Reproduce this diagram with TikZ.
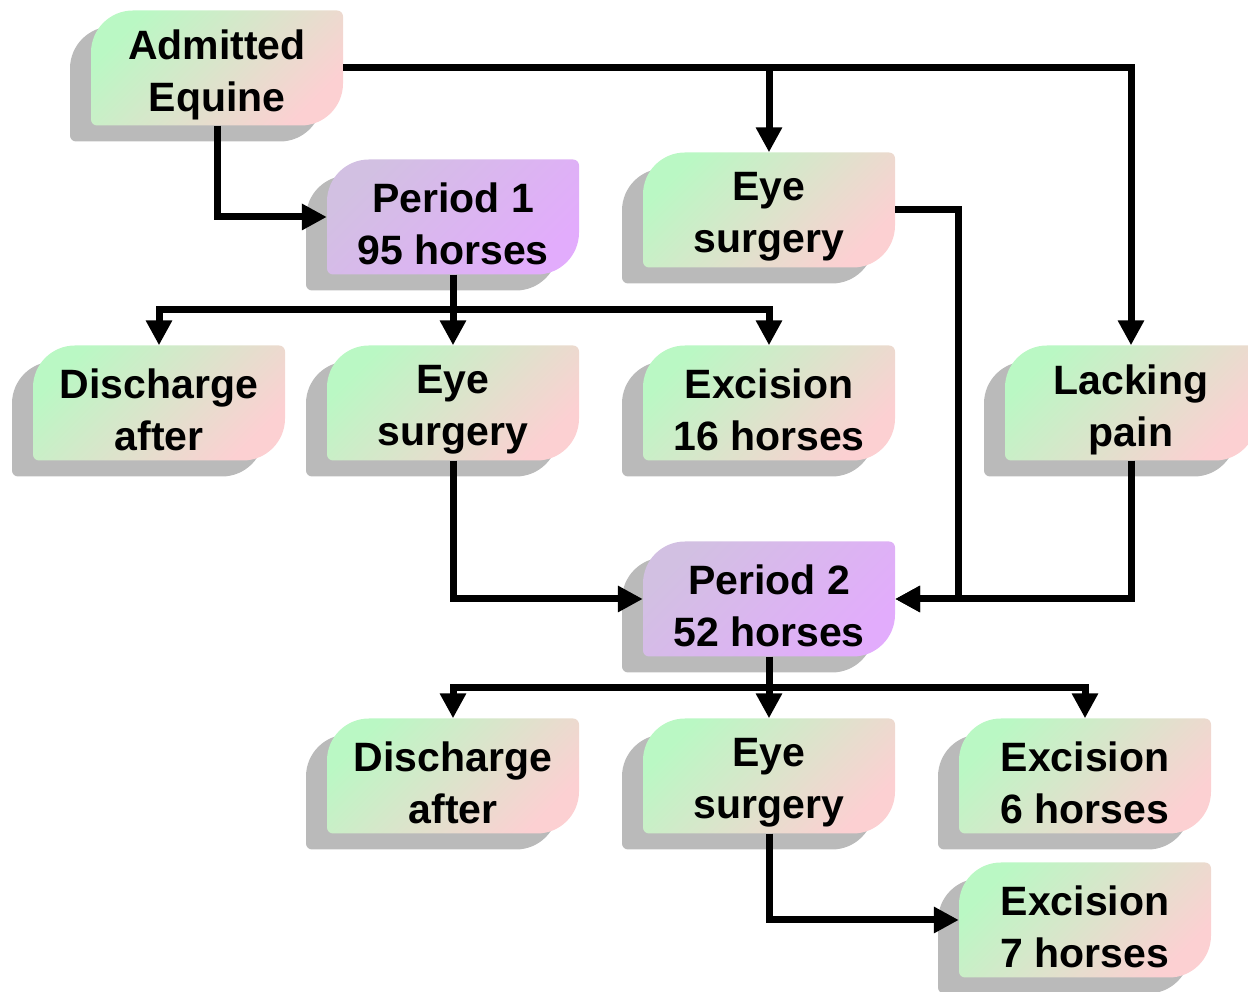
\documentclass[tikz,border=0pt]{standalone}
\usepackage{fontspec}
\setmainfont{Liberation Sans}
\usetikzlibrary{arrows.meta,calc}
\definecolor{gGreen}{RGB}{186,248,196}
\definecolor{gPink}{RGB}{252,208,210}
\definecolor{pTop}{RGB}{210,192,226}
\definecolor{pBot}{RGB}{226,172,252}
\definecolor{shad}{RGB}{186,186,186}
\tikzset{
  greenbox/.style={top color=gGreen, bottom color=gPink, shading angle=45},
  purplebox/.style={top color=pTop, bottom color=pBot, shading angle=45},
  shadowbox/.style={fill=shad},
  boxframe/.style={minimum width=252, minimum height=115, inner sep=0pt},
  txt/.style={inner sep=0pt, align=center,
    font=\fontsize{41}{52}\selectfont\bfseries},
  conn/.style={line width=7pt, line join=miter},
  arr/.style={conn, -{Triangle[length=25pt,width=25pt]}},
}
\newcommand\boxshape{(-126,-51.5) -- (-126,15.5) arc[start angle=180,end angle=90,radius=42]
  -- (120,57.5) arc[start angle=90,end angle=0,radius=6]
  -- (126,-15.5) arc[start angle=0,end angle=-90,radius=42]
  -- (-120,-57.5) arc[start angle=270,end angle=180,radius=6] -- cycle}
\newcommand\flowbox[4]{%
  \begin{scope}[shift={(#2)}, xshift=-21, yshift=-16]
    \fill[shadowbox] \boxshape;
  \end{scope}
  \begin{scope}[shift={(#2)}]
    \shade[#4] \boxshape;
  \end{scope}
  \node[boxframe] (#1) at (#2) {};
  \node[txt] (#1-t) at ([yshift=-7]#1.center) {#3};
}
\begin{document}
\begin{tikzpicture}[x=1pt,y=1pt]
\useasboundingbox (0,0) rectangle (1248,992);
\flowbox{adm}{217,924}{Admitted\\Equine}{greenbox}
\flowbox{p1}{453,775}{Period 1\\95 horses}{purplebox}
\flowbox{eyeA}{769,782}{Eye\\surgery}{greenbox}
\flowbox{disA}{159,589}{Discharge\\after}{greenbox}
\flowbox{eyeB}{453,589}{Eye\\surgery}{greenbox}
\flowbox{excA}{769,589}{Excision\\16 horses}{greenbox}
\flowbox{lack}{1131,589}{Lacking\\pain}{greenbox}
\flowbox{p2}{769,393}{Period 2\\52 horses}{purplebox}
\flowbox{disB}{453,216}{Discharge\\after}{greenbox}
\flowbox{eyeC}{769,216}{Eye\\surgery}{greenbox}
\flowbox{excB}{1085,216}{Excision\\6 horses}{greenbox}
\flowbox{excC}{1085,72}{Excision\\7 horses}{greenbox}

% from Admitted Equine
\draw[arr] (adm.east) -| (lack.north);
\draw[arr] (adm.east -| eyeA.north) -- (eyeA.north);
\draw[arr] (adm.south) |- (p1.west);
% from Period 1
\coordinate (s1) at ($(p1.south)!0.5!(eyeB.north)$);
\draw[conn] (p1.south) -- (s1);
\draw[arr] (s1) -| (disA.north);
\draw[arr] (s1) -- (eyeB.north);
\draw[arr] (s1) -| (excA.north);
% into Period 2
\draw[arr] (eyeA.east) -- ++(63,0) |- (p2.east);
\draw[arr] (lack.south) |- (p2.east);
\draw[arr] (eyeB.south) |- (p2.west);
% from Period 2
\coordinate (s2) at ($(p2.south)!0.5!(eyeC.north)$);
\draw[conn] (p2.south) -- (s2);
\draw[arr] (s2) -| (disB.north);
\draw[arr] (s2) -- (eyeC.north);
\draw[arr] (s2) -| (excB.north);
\draw[arr] (eyeC.south) |- (excC.west);
\end{tikzpicture}
\end{document}
